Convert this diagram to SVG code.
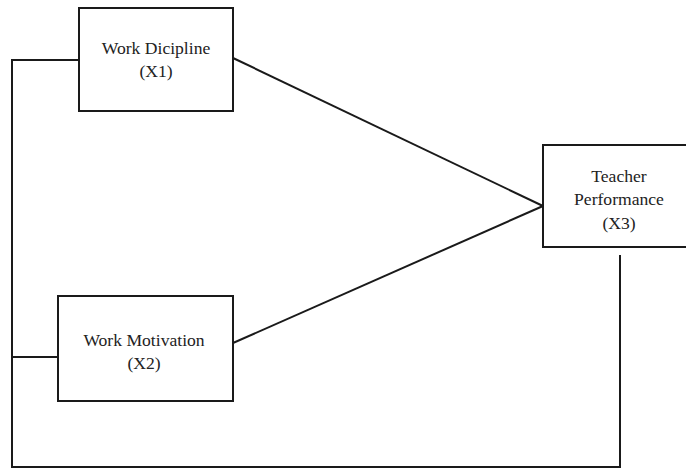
<svg xmlns="http://www.w3.org/2000/svg" width="686" height="470" viewBox="0 0 686 470">
<style>
.box{fill:#fff;stroke:#1a1a1a;stroke-width:2}
.ln{fill:none;stroke:#1a1a1a;stroke-width:2}
text{font-family:"Liberation Serif","Times New Roman",serif;font-size:17.6px;fill:#222;text-anchor:middle}
</style>
<rect width="686" height="470" fill="#fff"/>
<g id="connectors">
<polyline class="ln" points="79,60 12,60 12,467 620,467 620,255"/>
<line class="ln" x1="12" y1="357" x2="58" y2="357"/>
<line class="ln" x1="233" y1="58" x2="543" y2="206"/>
<line class="ln" x1="233" y1="343" x2="543" y2="206"/>
</g>
<g id="x1">
<rect class="box" x="79" y="8" width="154" height="103"/>
<text x="156" y="54">Work Dicipline</text>
<text x="156" y="77">(X1)</text>
</g>
<g id="x2">
<rect class="box" x="58" y="296" width="175" height="105"/>
<text x="144" y="346">Work Motivation</text>
<text x="144" y="369">(X2)</text>
</g>
<g id="x3">
<rect class="box" x="543" y="145" width="150" height="102"/>
<text x="619" y="182">Teacher</text>
<text x="619" y="205">Performance</text>
<text x="619" y="229">(X3)</text>
</g>
</svg>
